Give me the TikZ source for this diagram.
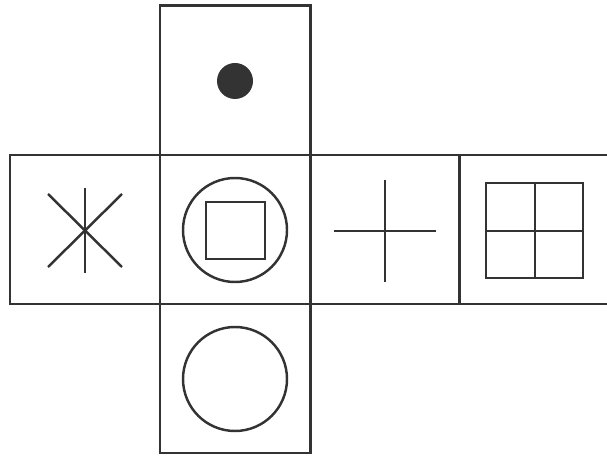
\documentclass[tikz,border=0pt]{standalone}
\definecolor{ink}{HTML}{333333}
\begin{document}
\begin{tikzpicture}[x=0.02cm, y=0.02cm,
        face/.style={draw=ink, line width=1.7pt},
        symbol/.style={draw=ink, line width=1.4pt}]
        \useasboundingbox (0,0) rectangle (607,456);

        % faces of the net
        \draw[face] (160,301) rectangle (310,450);
        \foreach \a/\b in {10/160, 160/310, 310/459, 459/609}
            \draw[face] (\a,152) rectangle (\b,301);
        \draw[face] (160,3) rectangle (310,152);

        % top: dot
        \fill[ink] (235,375) circle (18);

        % left: asterisk
        \draw[symbol] (85,268) -- (85,183);
        \draw[symbol] (48,262) -- (122,189);
        \draw[symbol] (48,189) -- (122,262);

        % middle: square in circle
        \draw[symbol] (235,226) circle (52);
        \draw[symbol] (206,197) rectangle (265,254);

        % right: cross
        \draw[symbol] (334,225) -- (436,225);
        \draw[symbol] (385,276) -- (385,174);

        % far right: window
        \draw[symbol] (486,178) rectangle (583,273);
        \draw[symbol] (535,178) -- (535,273);
        \draw[symbol] (486,225) -- (583,225);

        % bottom: circle
        \draw[symbol] (235,77) circle (52);
    \end{tikzpicture}
\end{document}
